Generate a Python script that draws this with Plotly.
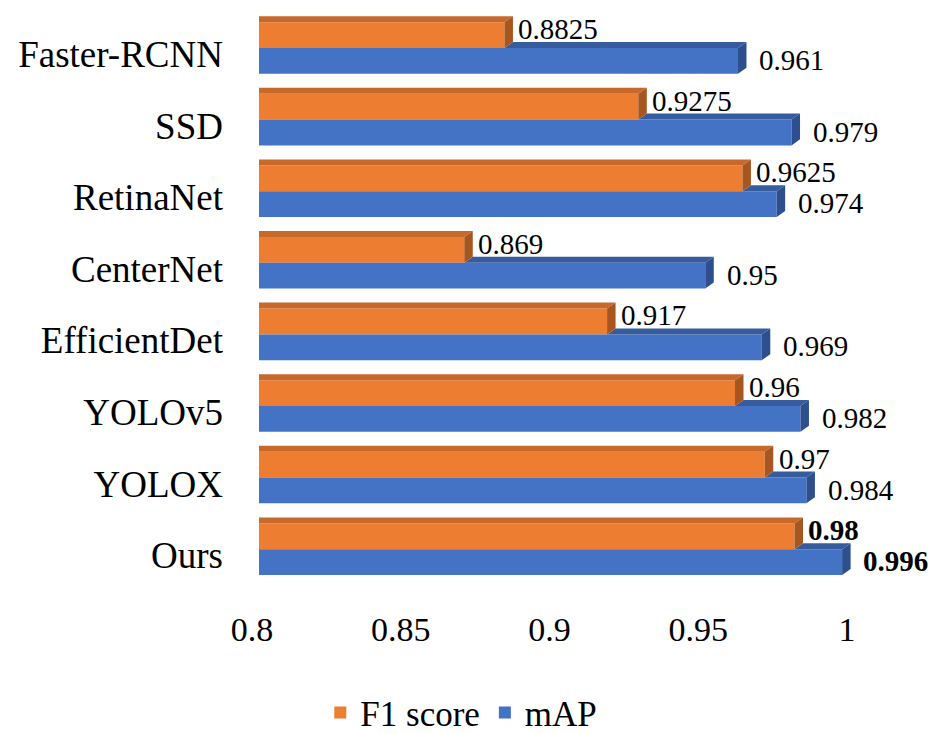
import plotly.graph_objects as go

# Detection models compared on the test set
models = ["Faster-RCNN", "SSD", "RetinaNet", "CenterNet", "EfficientDet", "YOLOv5", "YOLOX", "Ours"]
f1_score = [0.8825, 0.9275, 0.9625, 0.869, 0.917, 0.96, 0.97, 0.98]
map_score = [0.961, 0.979, 0.974, 0.95, 0.969, 0.982, 0.984, 0.996]
x_ticks = [0.8, 0.85, 0.9, 0.95, 1.0]
x_tick_labels = ["0.8", "0.85", "0.9", "0.95", "1"]

ORANGE, ORANGE_TOP, ORANGE_SIDE = "#ED7D31", "#C8692C", "#A8561F"
BLUE, BLUE_TOP, BLUE_SIDE = "#4472C4", "#365C9E", "#2D4F8E"
FONT = "Liberation Serif"

X_MIN, X_MAX = 0.8, 1.0
BAR_H = 0.36          # bar thickness in category units
DX, DY = 0.00286, 0.084   # depth of the 3D extrusion (x units, category units)

centers = [-i for i in range(len(models))]   # boundary between the two bars of a group
y_f1 = [c + BAR_H / 2 for c in centers]
y_map = [c - BAR_H / 2 for c in centers]

fig = go.Figure()
fig.add_trace(go.Bar(name="F1 score", x=f1_score, y=y_f1, orientation="h",
                     width=BAR_H, marker=dict(color=ORANGE, line=dict(width=0))))
fig.add_trace(go.Bar(name="mAP", x=map_score, y=y_map, orientation="h",
                     width=BAR_H, marker=dict(color=BLUE, line=dict(width=0))))


def poly(points, color):
    path = "M " + " L ".join(f"{x},{y}" for x, y in points) + " Z"
    return dict(type="path", path=path, xref="x", yref="y",
                fillcolor=color, line=dict(width=0), layer="above")


shapes = []
for c, vo, vb in zip(centers, f1_score, map_score):
    # mAP bar: visible part of the top face (behind the F1 bar) and the end face
    shapes.append(poly([(vo, c), (vb, c), (vb + DX, c + DY), (vo + DX, c + DY)], BLUE_TOP))
    shapes.append(poly([(vb, c - BAR_H), (vb, c), (vb + DX, c + DY), (vb + DX, c - BAR_H + DY)], BLUE_SIDE))
    # F1 bar: top face and end face
    top = c + BAR_H
    shapes.append(poly([(X_MIN, top), (vo, top), (vo + DX, top + DY), (X_MIN, top + DY)], ORANGE_TOP))
    shapes.append(poly([(vo, c), (vo, top), (vo + DX, top + DY), (vo + DX, c + DY)], ORANGE_SIDE))


def to_paper(v):
    # value labels may sit past the right end of the axis, so place them in paper units
    return (v - X_MIN) / (X_MAX - X_MIN)


annotations = []
for i, (c, vo, vb) in enumerate(zip(centers, f1_score, map_score)):
    bold = models[i] == "Ours"
    for v, y, dx in ((vo, c + 0.265, 0.0040), (vb, c - 0.168, 0.0065)):
        txt = f"{v:g}"
        annotations.append(dict(
            x=to_paper(v + dx), y=y, xref="paper", yref="y", xanchor="left", yanchor="middle",
            text=f"<b>{txt}</b>" if bold else txt, showarrow=False,
            font=dict(family=FONT, size=29, color="#000000")))

fig.update_layout(
    width=929, height=734,
    margin=dict(l=259, r=75, t=12, b=136, autoexpand=False),
    paper_bgcolor="white", plot_bgcolor="white",
    barmode="overlay", showlegend=True,
    shapes=shapes, annotations=annotations,
    font=dict(family=FONT, color="#000000"),
    legend=dict(orientation="h", x=0.34, xanchor="center", y=-0.196, yanchor="middle",
                font=dict(family=FONT, size=35), traceorder="normal"),
    xaxis=dict(range=[X_MIN, X_MAX], tickvals=x_ticks, ticktext=x_tick_labels,
               showgrid=False, zeroline=False, showline=False, ticks="",
               tickfont=dict(family=FONT, size=34), ticklabelshift=-7,
               ticklabelstandoff=8),
    yaxis=dict(range=[-7.682, 0.503], tickvals=centers, ticktext=models,
               showgrid=False, zeroline=False, showline=False, ticks="",
               tickfont=dict(family=FONT, size=37), ticklabelstandoff=35,
               ticklabelshift=6),
)

fig.write_html("out.html")
